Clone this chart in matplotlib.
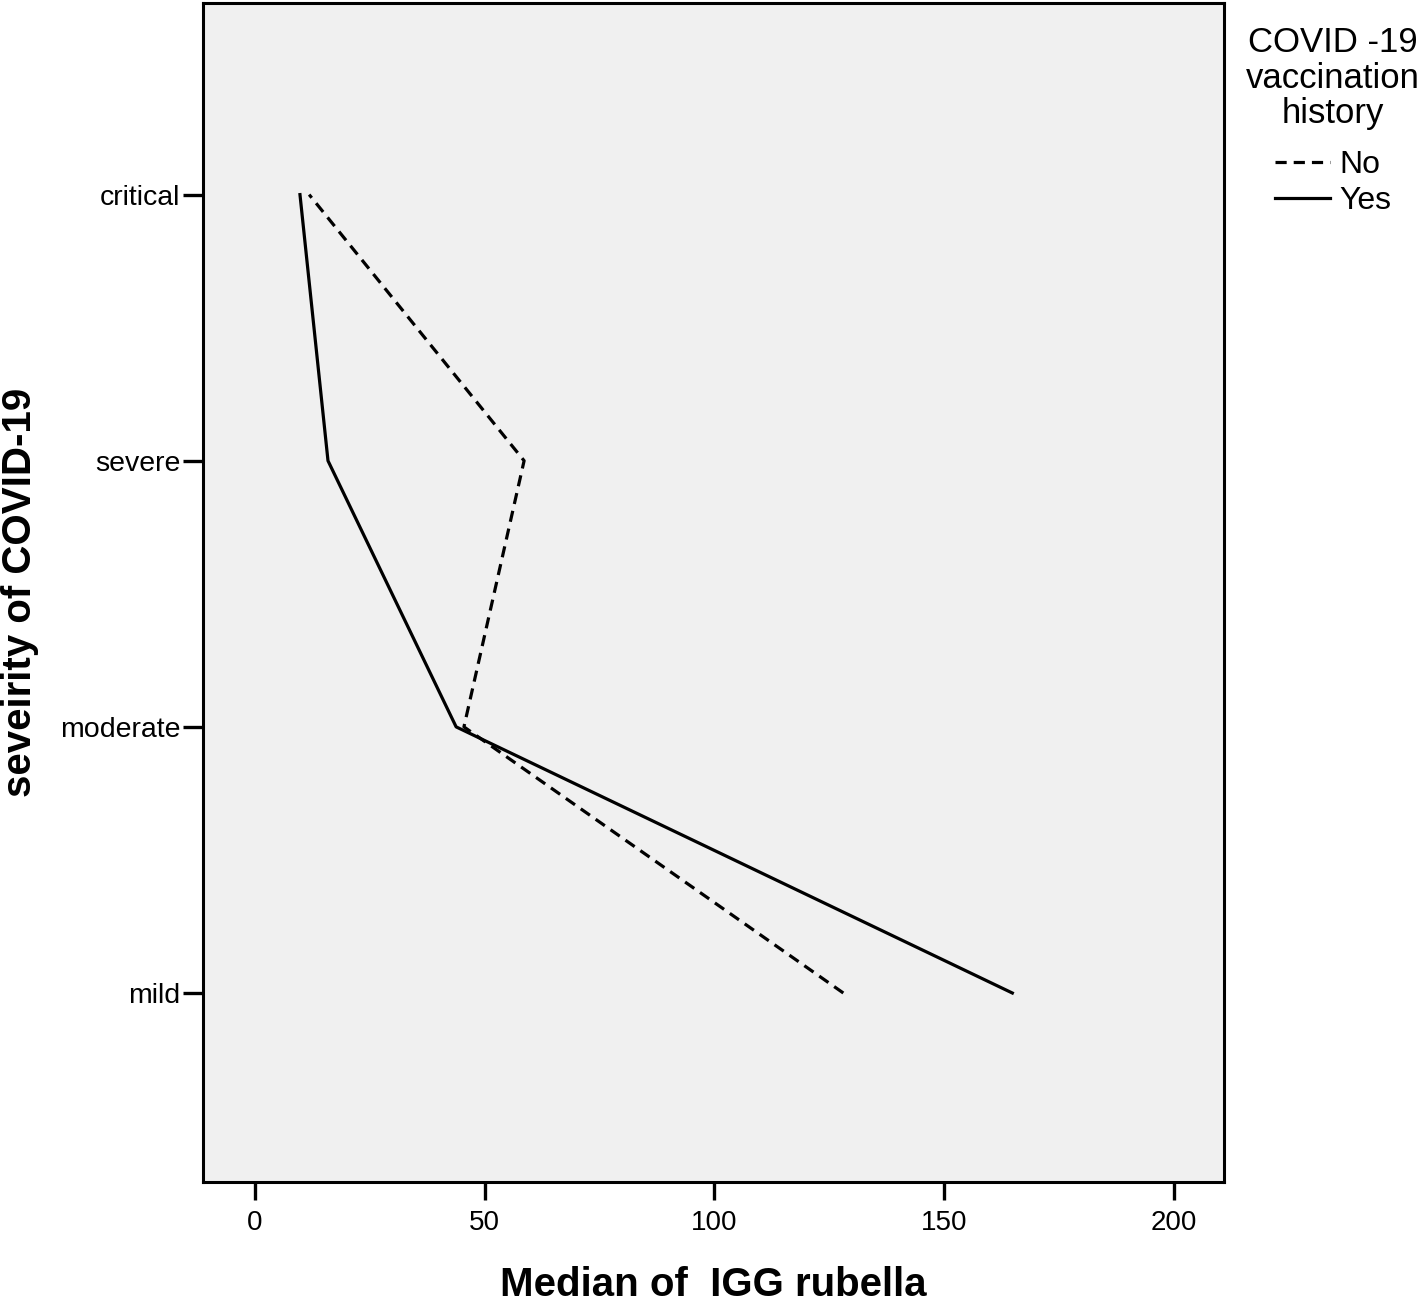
import matplotlib
matplotlib.use('Agg')
import matplotlib.pyplot as plt

plt.rcParams['font.family'] = ['Liberation Sans', 'DejaVu Sans']

severity = ['mild', 'moderate', 'severe', 'critical']
igg_no = [128.1, 45.5, 58.6, 11.8]
igg_yes = [164.9, 43.8, 15.9, 9.8]
ypos = list(range(len(severity)))

fig = plt.figure(figsize=(14.24, 13), dpi=100)
ax = fig.add_axes([0.1426, 0.0908, 0.717, 0.9069])
ax.set_facecolor('#f0f0f0')

l_no, = ax.plot(igg_no, ypos, color='black', lw=2.3, ls=(0, (3.5, 2.2)), label='No')
l_yes, = ax.plot(igg_yes, ypos, color='black', lw=2.3, label='Yes')

ax.set_xlim(-11.3, 211)
ax.set_ylim(-0.71, 3.72)
ax.set_xticks([0, 50, 100, 150, 200])
ax.set_yticks(ypos)
ax.set_yticklabels(severity)

for s in ax.spines.values():
    s.set_linewidth(2.2)
ax.tick_params(axis='y', length=14.5, width=2.4, pad=2, labelsize=20.5)
ax.tick_params(axis='x', length=13, width=2.4, pad=7, labelsize=20)

ax.set_xlabel('Median of  IGG rubella', fontsize=29, fontweight='bold')
ax.xaxis.set_label_coords(0.5, -0.071)
fig.text(20 / 1424, 1 - 592 / 1300, 'seveirity of COVID-19', rotation=90,
         ha='center', va='center', fontsize=29, fontweight='bold')

leg = fig.legend(handles=[l_no, l_yes], title='COVID -19\nvaccination\nhistory',
                 loc='upper left', bbox_to_anchor=(0.855, 1.002), frameon=False,
                 fontsize=23, title_fontsize=25, handlelength=1.7, handletextpad=0.3,
                 labelspacing=0.2)
leg._legend_box.align = 'center'
leg._legend_box.sep = 14
leg.get_title().set_multialignment('center')
leg.get_title().set_linespacing(1.1)

fig.savefig('out.png', dpi=100)
